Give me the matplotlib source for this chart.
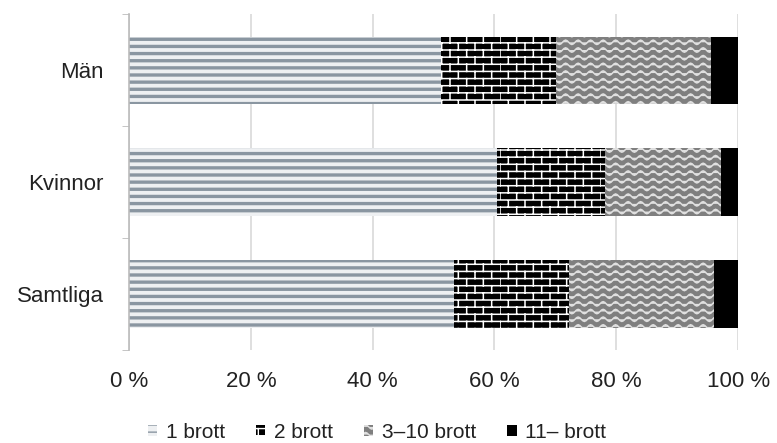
import matplotlib
matplotlib.use("Agg")
import matplotlib.pyplot as plt
import matplotlib.hatch as mhatch
from matplotlib.path import Path
import numpy as np

plt.rcParams['font.family'] = ['Liberation Sans', 'DejaVu Sans']

categories = ["Samtliga", "Kvinnor", "Män"]
series_names = ["1 brott", "2 brott", "3–10 brott", "11– brott"]
# shares in percent, order follows categories
one = [53.4, 60.4, 51.2]
two = [18.8, 17.8, 18.9]
three_ten = [23.9, 19.0, 25.5]
eleven = [3.9, 2.8, 4.4]
xticks = [0, 20, 40, 60, 80, 100]


# custom hatch patterns: '-' stripes, 'O' bricks, '*' waves
class Stripes(mhatch.HatchPatternBase):
    def __init__(self, hatch, density):
        self.num_lines = 14 * hatch.count('-')
        self.num_vertices = self.num_lines * 2

    def set_vertices_and_codes(self, vertices, codes):
        steps = (np.arange(self.num_lines) + 0.5) / self.num_lines
        vertices[0::2, 0] = 0.0
        vertices[0::2, 1] = steps
        vertices[1::2, 0] = 1.0
        vertices[1::2, 1] = steps
        codes[0::2] = Path.MOVETO
        codes[1::2] = Path.LINETO


class Bricks(mhatch.HatchPatternBase):
    rows = 14
    cols = 6

    def __init__(self, hatch, density):
        self.on = hatch.count('O') > 0
        n = (self.rows + 1) * 2 + self.rows * self.cols * 2
        self.num_vertices = n if self.on else 0

    def set_vertices_and_codes(self, vertices, codes):
        pts = []
        for k in range(self.rows + 1):
            pts += [(0.0, k / self.rows), (1.0, k / self.rows)]
        for k in range(self.rows):
            shift = 0.5 * (k % 2)
            for j in range(self.cols):
                x = (j + shift) / self.cols
                pts += [(x, k / self.rows), (x, (k + 1) / self.rows)]
        vertices[:] = np.array(pts)
        codes[0::2] = Path.MOVETO
        codes[1::2] = Path.LINETO


class Waves(mhatch.HatchPatternBase):
    rows = 13
    periods = 8
    steps = 64

    def __init__(self, hatch, density):
        self.on = hatch.count('*') > 0
        self.num_vertices = self.rows * (self.steps + 1) if self.on else 0

    def set_vertices_and_codes(self, vertices, codes):
        xs = np.linspace(0, 1, self.steps + 1)
        i = 0
        for k in range(self.rows):
            y0 = (k + 0.5) / self.rows
            ys = y0 + 0.022 * np.sin(2 * np.pi * self.periods * xs)
            vertices[i:i + self.steps + 1, 0] = xs
            vertices[i:i + self.steps + 1, 1] = ys
            codes[i] = Path.MOVETO
            codes[i + 1:i + self.steps + 1] = Path.LINETO
            i += self.steps + 1


types = list(mhatch._hatch_types)
types[types.index(mhatch.HorizontalHatch)] = Stripes
types[types.index(mhatch.LargeCircles)] = Bricks
types[types.index(mhatch.Stars)] = Waves
mhatch._hatch_types[:] = types

styles = [
    dict(facecolor="#eef0f2", edgecolor="#8a96a1", hatch="-", hlw=2.4),
    dict(facecolor="black", edgecolor="white", hatch="O", hlw=1.1),
    dict(facecolor="#7f7f7f", edgecolor="#e0e0e0", hatch="*", hlw=1.1),
    dict(facecolor="black", edgecolor="black", hatch=None, hlw=1.0),
]

fig = plt.figure(figsize=(7.77, 4.43), dpi=100)
ax = fig.add_axes([0.166, 0.21, 0.784, 0.758])

y = np.arange(len(categories))
left = np.zeros(len(categories))
for vals, name, st in zip([one, two, three_ten, eleven], series_names, styles):
    with plt.rc_context({'hatch.linewidth': st["hlw"]}):
        bars = ax.barh(y, vals, left=left, height=0.6, label=name,
                       facecolor=st["facecolor"], edgecolor=st["edgecolor"],
                       hatch=st["hatch"], linewidth=0)
    for b in bars:
        if hasattr(b, "set_hatch_linewidth"):
            b.set_hatch_linewidth(st["hlw"])
    left += np.array(vals)

ax.set_xlim(0, 100)
ax.set_ylim(-0.5, 2.5)
ax.set_xticks(xticks)
ax.set_xticklabels([f"{t} %" for t in xticks], fontsize=16, color="#222222")
ax.set_yticks(y)
ax.set_yticklabels(categories, fontsize=16, color="#222222")
ax.tick_params(axis="y", length=0, pad=18)
ax.tick_params(axis="x", length=0, pad=15)
ax.set_yticks([-0.5, 0.5, 1.5, 2.5], minor=True)
ax.tick_params(axis="y", which="minor", length=5, color="#bbbbbb")

ax.grid(axis="x", color="#d9d9d9", linewidth=1.2)
ax.set_axisbelow(True)
for s in ["top", "right", "bottom"]:
    ax.spines[s].set_visible(False)
ax.spines["left"].set_color("#bbbbbb")
ax.spines["left"].set_linewidth(1.2)

ax.legend(loc="center", bbox_to_anchor=(0.407, -0.245), ncol=4,
          frameon=False, fontsize=15, handlelength=0.45, handleheight=0.45,
          handletextpad=0.4, columnspacing=1.5, labelcolor="#222222",
          borderpad=0)

fig.savefig("out.png", dpi=100)
